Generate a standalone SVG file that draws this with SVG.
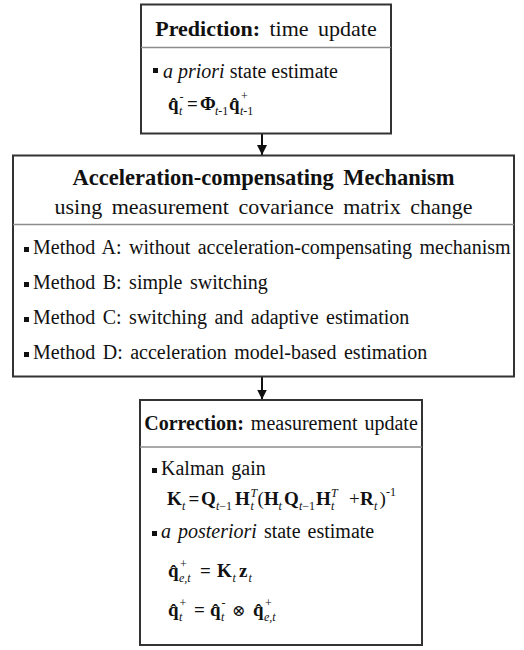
<svg xmlns="http://www.w3.org/2000/svg" width="524" height="650" viewBox="0 0 524 650">
  <defs>
    <style>
      .box { fill: #ffffff; stroke: #333333; stroke-width: 2; }
      .div { stroke: #8c8c8c; stroke-width: 1.5; }
      .conn { stroke: #111111; stroke-width: 2; fill: none; }
      .t { font-family: "Liberation Serif", "Times New Roman", serif; fill: #111111; }
      .title { font-size: 22px; }
      .row { font-size: 20px; }
      .b { font-weight: bold; }
      .i { font-style: italic; }
      .eq { font-family: "Liberation Serif", "Times New Roman", serif; font-size: 19px; font-weight: bold; fill: #111111; }
      .n { font-weight: normal; }
      .s { font-size: 12px; font-weight: normal; }
      .si { font-size: 12px; font-weight: normal; font-style: italic; }
      .op { font-family: "DejaVu Serif", "Liberation Serif", serif; font-size: 16px; font-weight: normal; }
      .bullet { fill: #111111; }
    </style>
    <marker id="arrow" viewBox="0 0 10 10" refX="10" refY="5" markerWidth="5" markerHeight="5" markerUnits="strokeWidth" orient="auto">
      <path d="M0,0 L10,5 L0,10 Z" fill="#111111"/>
    </marker>
  </defs>

  <rect width="524" height="650" fill="#ffffff"/>

  <!-- connectors between the three stages -->
  <g id="connectors">
    <line class="conn" x1="262" y1="134" x2="262" y2="155" marker-end="url(#arrow)"/>
    <line class="conn" x1="262" y1="377" x2="262" y2="399.5" marker-end="url(#arrow)"/>
  </g>

  <!-- prediction step -->
  <g id="prediction">
    <rect class="box" x="141" y="4.5" width="250" height="129"/>
    <line class="div" x1="141" y1="47.5" x2="391" y2="47.5"/>
    <text class="t title" x="266" y="35.5" text-anchor="middle" word-spacing="4"><tspan class="b">Prediction:</tspan> time update</text>
    <rect class="bullet" x="153" y="68" width="5" height="5"/>
    <text class="t row" x="163" y="78"><tspan class="i">a priori</tspan> state estimate</text>
    <!-- q-hat_t^- = Phi_{t-1} q-hat_{t-1}^+ -->
    <text class="eq"><tspan x="168" y="110">q̂</tspan><tspan class="si" x="179" y="115">t</tspan><tspan class="s" x="179.5" y="101">-</tspan><tspan x="187" y="110">=</tspan><tspan x="200" y="110">Φ</tspan><tspan class="si" x="215" y="115">t</tspan><tspan class="s">-1</tspan><tspan x="229" y="110">q̂</tspan><tspan class="si" x="240" y="115">t</tspan><tspan class="s">-1</tspan><tspan class="s" x="241" y="100">+</tspan></text>
  </g>

  <!-- acceleration compensation methods -->
  <g id="mechanism">
    <rect class="box" x="13" y="155.5" width="501" height="221"/>
    <line class="div" x1="13" y1="224.5" x2="514" y2="224.5"/>
    <text class="t b" x="263.5" y="185" text-anchor="middle" font-size="22.5" word-spacing="4">Acceleration-compensating Mechanism</text>
    <text class="t title" x="263.5" y="214" text-anchor="middle" word-spacing="4">using measurement covariance matrix change</text>
    <rect class="bullet" x="24" y="247" width="5" height="5"/>
    <text class="t row" x="33" y="254" word-spacing="2.5">Method A: without acceleration-compensating mechanism</text>
    <rect class="bullet" x="24" y="282" width="5" height="5"/>
    <text class="t row" x="33" y="289" word-spacing="2.5">Method B: simple switching</text>
    <rect class="bullet" x="24" y="317" width="5" height="5"/>
    <text class="t row" x="33" y="324" word-spacing="2.5">Method C: switching and adaptive estimation</text>
    <rect class="bullet" x="24" y="352" width="5" height="5"/>
    <text class="t row" x="33" y="359" word-spacing="2.5">Method D: acceleration model-based estimation</text>
  </g>

  <!-- correction step -->
  <g id="correction">
    <rect class="box" x="140" y="400" width="282" height="245"/>
    <line class="div" x1="140" y1="447" x2="422" y2="447"/>
    <text class="t" x="281" y="430" text-anchor="middle" font-size="20" word-spacing="2"><tspan class="b">Correction:</tspan> measurement update</text>

    <rect class="bullet" x="152" y="468" width="5" height="5"/>
    <text class="t row" x="161" y="475" word-spacing="2">Kalman gain</text>
    <!-- K_t = Q_{t-1} H_t^T (H_t Q_{t-1} H_t^T + R_t)^{-1} -->
    <text class="eq" font-size="18.5"><tspan x="167" y="505">K</tspan><tspan class="si" x="182" y="510">t</tspan><tspan x="188.5" y="505">=</tspan><tspan x="201" y="505">Q</tspan><tspan class="si" x="216" y="510">t</tspan><tspan class="s">−1</tspan><tspan x="235" y="505">H</tspan><tspan class="si" x="250.5" y="497">T</tspan><tspan class="si" x="250.5" y="510">t</tspan><tspan class="n" x="257.5" y="505">(</tspan><tspan x="264" y="505">H</tspan><tspan class="si" x="278.5" y="510">t</tspan><tspan x="284" y="505">Q</tspan><tspan class="si" x="299" y="510">t</tspan><tspan class="s">−1</tspan><tspan x="316" y="505">H</tspan><tspan class="si" x="331" y="497">T</tspan><tspan class="si" x="331" y="510">t</tspan><tspan class="n" x="349" y="505">+</tspan><tspan x="360" y="505">R</tspan><tspan class="si" x="374" y="510">t</tspan><tspan class="n" x="379.5" y="505">)</tspan><tspan class="s" x="386" y="496">-1</tspan></text>

    <rect class="bullet" x="152" y="531" width="5" height="5"/>
    <text class="t row" x="161" y="538" word-spacing="2"><tspan class="i">a posteriori</tspan> state estimate</text>
    <!-- q-hat_{e,t}^+ = K_t z_t -->
    <text class="eq"><tspan x="168" y="577">q̂</tspan><tspan class="si" x="179" y="582">e,t</tspan><tspan class="s" x="180" y="568">+</tspan><tspan x="200" y="577">=</tspan><tspan x="217" y="577">K</tspan><tspan class="si" x="232.5" y="582">t</tspan><tspan x="239" y="577">z</tspan><tspan class="si" x="248.5" y="582">t</tspan></text>
    <!-- q-hat_t^+ = q-hat_t^- (x) q-hat_{e,t}^+ -->
    <text class="eq"><tspan x="168" y="616">q̂</tspan><tspan class="si" x="179" y="621">t</tspan><tspan class="s" x="179.5" y="607">+</tspan><tspan x="194" y="616">=</tspan><tspan x="210" y="616">q̂</tspan><tspan class="si" x="221" y="621">t</tspan><tspan class="s" x="221.5" y="607">-</tspan><tspan class="op" x="232" y="616">⊗</tspan><tspan x="253" y="616">q̂</tspan><tspan class="si" x="264" y="621">e,t</tspan><tspan class="s" x="265" y="607">+</tspan></text>
  </g>
</svg>
